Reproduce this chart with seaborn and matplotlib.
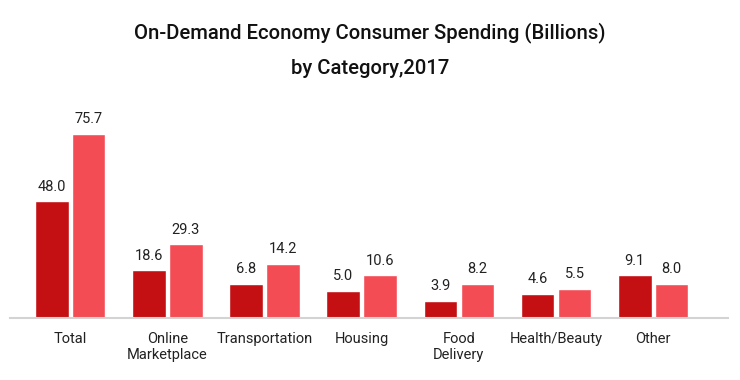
import matplotlib
matplotlib.use("Agg")
import matplotlib.pyplot as plt
import seaborn as sns
import pandas as pd

categories = ["Total", "Online\nMarketplace", "Transportation", "Housing",
              "Food\nDelivery", "Health/Beauty", "Other"]
series_names = ["Series 1", "Series 2"]
# printed value labels
labels_1 = [48.0, 18.6, 6.8, 5.0, 3.9, 4.6, 9.1]
labels_2 = [75.7, 29.3, 14.2, 10.6, 8.2, 5.5, 8.0]
# bar heights as drawn in the picture (same scale as the labels for the tall bars)
heights_1 = [48.0, 19.6, 14.0, 11.1, 7.0, 9.9, 17.5]
heights_2 = [75.7, 30.3, 22.2, 17.5, 14.0, 11.9, 14.0]
colors = ["#c41012", "#f44c55"]

df = pd.DataFrame({
    "category": categories * 2,
    "series": [series_names[0]] * len(categories) + [series_names[1]] * len(categories),
    "value": heights_1 + heights_2,
})

sns.set_theme(style="white")
plt.rcParams["font.family"] = ["Roboto", "DejaVu Sans"]

fig = plt.figure(figsize=(7.4, 3.8), dpi=100)
ax = fig.add_axes([10 / 740, 62 / 380, 718 / 740, 218 / 380])

sns.barplot(data=df, x="category", y="value", hue="series", order=categories,
            hue_order=series_names, palette=colors, width=0.76, gap=0.09,
            legend=False, ax=ax, saturation=1)

for cont, labs in zip(ax.containers, [labels_1, labels_2]):
    ax.bar_label(cont, labels=[f"{v:.1f}" for v in labs], padding=5.5,
                 fontsize=10.5, color="#222222")

ax.set_xlim(-0.62, 6.77)
ax.set_ylim(0, 89.7)
ax.set_xlabel("")
ax.set_ylabel("")
ax.set_yticks([])
for s in ["top", "right", "left"]:
    ax.spines[s].set_visible(False)
ax.spines["bottom"].set_color("#d3d3d3")
ax.spines["bottom"].set_linewidth(1.5)
ax.tick_params(axis="x", length=0, pad=10, labelsize=10.5, labelcolor="#222222")

fig.text(0.5, 1 - 38.5 / 380, "On-Demand Economy Consumer Spending (Billions)",
         ha="center", va="baseline", fontsize=14.6, fontweight="medium", color="#111111")
fig.text(0.5, 1 - 74.3 / 380, "by Category,2017",
         ha="center", va="baseline", fontsize=14.6, fontweight="medium", color="#111111")

fig.savefig("out.png", dpi=100)
